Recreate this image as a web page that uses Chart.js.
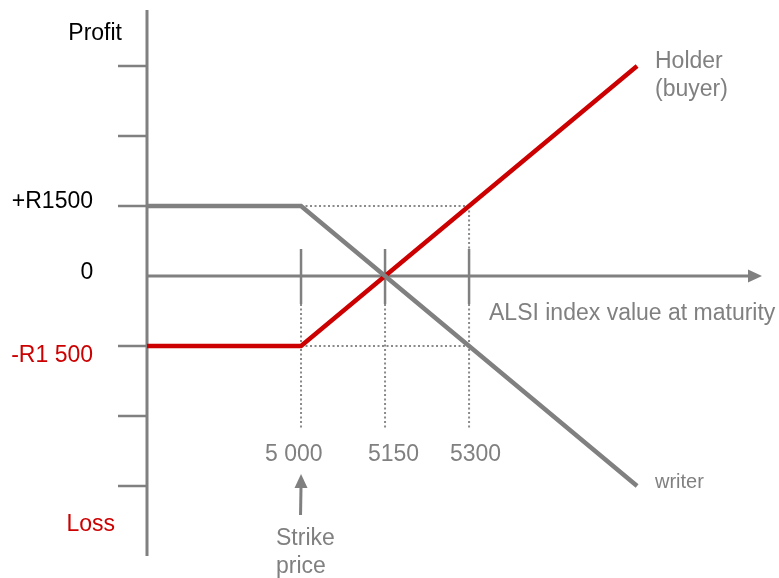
<!DOCTYPE html>
<html>
<head>
<meta charset="utf-8">
<script src="https://cdn.jsdelivr.net/npm/chart.js@4"></script>
<style>
  html, body { margin: 0; padding: 0; background: #fff; }
  #wrap { width: 779px; height: 578px; }
</style>
</head>
<body>
<div id="wrap"><canvas id="payoff"></canvas></div>
<script>
// Index value at maturity (x) and profit/loss in rand (y)
const indexValues = [4725, 5000, 5600];
const holderProfit = [-1500, -1500, 4500];
const writerProfit = [1500, 1500, -4500];

// Marked index levels and their labels
const xTickValues = [5000, 5150, 5300];
const xTickLabels = ['5 000', '5150', '5300'];

// Short ticks on the profit axis
const yTickValues = [4500, 3000, 1500, -1500, -3000, -4500];
const yLabels = [
    { value: 1500, text: '+R1500', color: '#000000' },
    { value: 0, text: '0', color: '#000000' },
    { value: -1500, text: '-R1 500', color: '#cc0000' }
];

const GRAY = '#808080';
const RED = '#cc0000';
const FONT = '23px "Liberation Sans", Arial, sans-serif';

// Axes, ticks, guides and text drawn on the chart scales
const payoffDecor = {
    id: 'payoffDecor',
    beforeDatasetsDraw(chart) {
        const ctx = chart.ctx;
        const xs = chart.scales.x;
        const ys = chart.scales.y;
        const area = chart.chartArea;
        const x0 = area.left;
        const yZero = ys.getPixelForValue(0);
        const pxStrike = xs.getPixelForValue(5000);
        const pxHigh = xs.getPixelForValue(5300);
        const pyPlus = ys.getPixelForValue(1500);
        const pyMinus = ys.getPixelForValue(-1500);

        ctx.save();

        // dotted guide lines
        ctx.strokeStyle = '#8a8a8a';
        ctx.lineWidth = 2;
        ctx.setLineDash([2, 2.5]);
        ctx.beginPath();
        ctx.moveTo(pxStrike, pyPlus);
        ctx.lineTo(pxHigh, pyPlus);
        ctx.moveTo(pxStrike, pyMinus);
        ctx.lineTo(pxHigh, pyMinus);
        ctx.moveTo(pxHigh, pyPlus);
        ctx.lineTo(pxHigh, yZero - 27);
        xTickValues.forEach(v => {
            const px = xs.getPixelForValue(v);
            ctx.moveTo(px, yZero + 28);
            ctx.lineTo(px, yZero + 152);
        });
        ctx.stroke();
        ctx.setLineDash([]);

        // y axis
        ctx.strokeStyle = GRAY;
        ctx.lineWidth = 3;
        ctx.beginPath();
        ctx.moveTo(x0, area.top);
        ctx.lineTo(x0, area.bottom);
        ctx.stroke();

        // y ticks
        ctx.lineWidth = 2.5;
        ctx.beginPath();
        yTickValues.forEach(v => {
            const py = ys.getPixelForValue(v);
            ctx.moveTo(x0 - 29, py);
            ctx.lineTo(x0, py);
        });
        ctx.stroke();

        // x axis with arrow
        ctx.lineWidth = 3;
        ctx.beginPath();
        ctx.moveTo(x0, yZero);
        ctx.lineTo(area.right - 12, yZero);
        ctx.stroke();
        ctx.fillStyle = GRAY;
        ctx.beginPath();
        ctx.moveTo(area.right, yZero);
        ctx.lineTo(area.right - 14, yZero - 6.5);
        ctx.lineTo(area.right - 14, yZero + 6.5);
        ctx.closePath();
        ctx.fill();

        // solid x ticks
        ctx.lineWidth = 2.5;
        ctx.beginPath();
        xTickValues.forEach(v => {
            const px = xs.getPixelForValue(v);
            ctx.moveTo(px, yZero - 27);
            ctx.lineTo(px, yZero + 28);
        });
        ctx.stroke();

        ctx.restore();
    },
    afterDraw(chart) {
        const ctx = chart.ctx;
        const xs = chart.scales.x;
        const ys = chart.scales.y;
        const yZero = ys.getPixelForValue(0);
        const pxStrike = xs.getPixelForValue(5000);

        ctx.save();
        ctx.font = FONT;
        ctx.textBaseline = 'middle';

        // profit axis labels
        ctx.textAlign = 'right';
        ctx.fillStyle = '#000000';
        ctx.fillText('Profit', 122, 34);
        ctx.fillStyle = RED;
        ctx.fillText('Loss', 115, 525);
        yLabels.forEach(l => {
            ctx.fillStyle = l.color;
            const py = ys.getPixelForValue(l.value);
            if (l.value === 0) {
                ctx.textAlign = 'center';
                ctx.fillText(l.text, 87, py - 3);
            } else {
                ctx.textAlign = 'right';
                ctx.fillText(l.text, 93, py + (l.value < 0 ? 10 : -4));
            }
        });

        // index labels
        ctx.fillStyle = GRAY;
        ctx.textAlign = 'left';
        const xLabelLeft = [265, 368, 450];
        xTickValues.forEach((v, i) => {
            ctx.fillText(xTickLabels[i], xLabelLeft[i], yZero + 179);
        });
        ctx.fillText('ALSI index value at maturity', 489, yZero + 38);
        ctx.fillText('Holder', 655, 62);
        ctx.fillText('(buyer)', 655, 90);
        ctx.fillText('Strike', 276, 539);
        ctx.fillText('price', 276, 567);
        ctx.font = '20px "Liberation Sans", Arial, sans-serif';
        ctx.fillText('writer', 655, 482);

        // strike price arrow
        ctx.strokeStyle = GRAY;
        ctx.lineWidth = 3;
        ctx.beginPath();
        ctx.moveTo(pxStrike - 0.5, 515);
        ctx.lineTo(pxStrike, 485);
        ctx.stroke();
        ctx.beginPath();
        ctx.moveTo(pxStrike, 474);
        ctx.lineTo(pxStrike - 6.5, 488);
        ctx.lineTo(pxStrike + 6.5, 488);
        ctx.closePath();
        ctx.fill();

        ctx.restore();
    }
};

new Chart(document.getElementById('payoff'), {
    type: 'line',
    data: {
        datasets: [
            {
                label: 'Writer',
                data: indexValues.map((x, i) => ({ x: x, y: writerProfit[i] })),
                borderColor: GRAY,
                borderWidth: 4.5,
                pointRadius: 0,
                tension: 0,
                order: 0
            },
            {
                label: 'Holder (buyer)',
                data: indexValues.map((x, i) => ({ x: x, y: holderProfit[i] })),
                borderColor: RED,
                borderWidth: 4.5,
                pointRadius: 0,
                tension: 0,
                order: 1
            }
        ]
    },
    options: {
        responsive: true,
        maintainAspectRatio: false,
        animation: false,
        layout: { padding: { left: 147, right: 17, top: 10, bottom: 22 } },
        scales: {
            x: { type: 'linear', min: 4725, max: 5823, display: false },
            y: { type: 'linear', min: -6000, max: 5700, display: false }
        },
        plugins: {
            legend: { display: false },
            tooltip: { enabled: false }
        }
    },
    plugins: [payoffDecor]
});
</script>
</body>
</html>
